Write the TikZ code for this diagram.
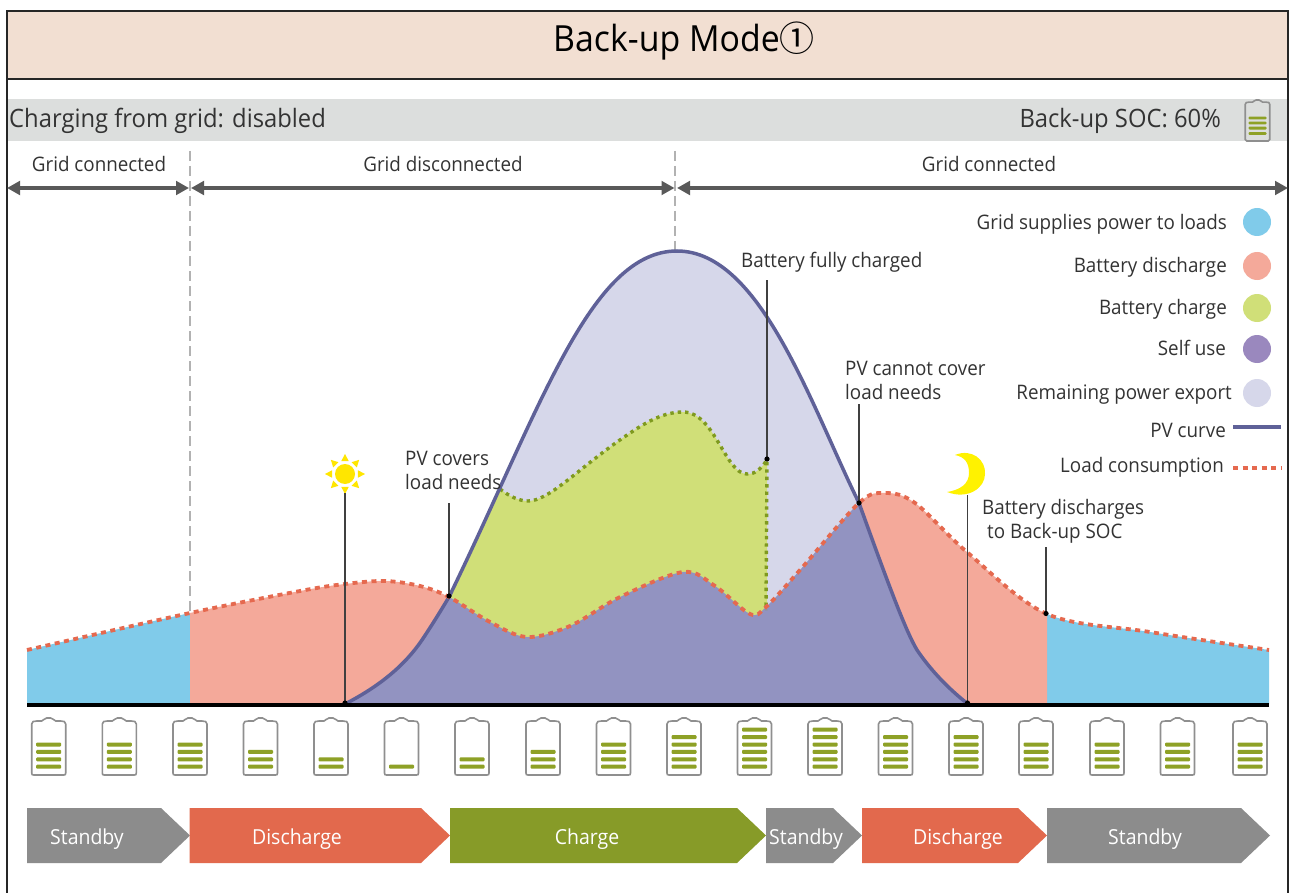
\documentclass[tikz,border=0pt]{standalone}
\usepackage{fontspec}
\setmainfont[FakeStretch=0.94]{Open Sans}
\newfontfamily\symfont{Noto Sans CJK SC}
\usetikzlibrary{arrows.meta}
\definecolor{cBlue}{HTML}{80CBEA}
\definecolor{cPink}{HTML}{F4A99A}
\definecolor{cGreen}{HTML}{D0DF78}
\definecolor{cPurple}{HTML}{9293C1}
\definecolor{cLegPurple}{HTML}{9A88BE}
\definecolor{cLav}{HTML}{D6D7EA}
\definecolor{cPV}{HTML}{5F6198}
\definecolor{cLoad}{HTML}{E5694F}
\definecolor{cGrnLine}{HTML}{7F9A1F}
\definecolor{cBar}{HTML}{8EA126}
\definecolor{cOut}{HTML}{8F8F8F}
\definecolor{cGrey}{HTML}{8C8C8C}
\definecolor{cOrange}{HTML}{E2694D}
\definecolor{cOlive}{HTML}{879B28}
\definecolor{cText}{HTML}{333333}
\definecolor{cArrow}{HTML}{595959}
\definecolor{cBand}{HTML}{DCDEDD}
\definecolor{cTitle}{HTML}{F2DFD2}
\definecolor{cSun}{HTML}{FFE600}
\definecolor{cMoon}{HTML}{FFF200}
\def\loadc{-- plot[smooth,tension=.55] coordinates {(27,650) (190,613) (300,591) (345,584) (385,581) (420,586) (449,597) (490,622) (527,637) (570,626) (620,597) (683,572) (715,586) (750,614) (766,607) (800,570) (859,503) (885,493) (915,503) (968,553) (1047,614) (1150,632) (1269,650)}}
\def\pvc{.. controls (380,686) and (405,665) .. (422,640) .. controls (432,625) and (440,612) .. (449,597) .. controls (540,410) and (590,251) .. (677,251) .. controls (760,251) and (810,403) .. (859,503) .. controls (885,575) and (905,630) .. (917,650) .. controls (932,672) and (950,690) .. (968,704)}
\def\grnc{-- (500,489) .. controls (510,497) and (520,501) .. (528,501) .. controls (548,501) and (575,472) .. (617,442) .. controls (640,426) and (660,412) .. (683,412) .. controls (715,412) and (725,474) .. (747,474) .. controls (755,474) and (760,470) .. (767,460)}
\newcommand\battshape{\draw[battline] (-17,6) .. controls (-17,3.5) and (-15,3) .. (-12,3) -- (-7,3) .. controls (-5,3) and (-5,0) .. (-2,0) -- (2,0) .. controls (5,0) and (5,3) .. (7,3) -- (12,3) .. controls (15,3) and (17,3.5) .. (17,6) -- (17,55) .. controls (17,56.5) and (16.5,57) .. (15,57) -- (-15,57) .. controls (-16.5,57) and (-17,56.5) .. (-17,55) -- cycle;}
\tikzset{
  battline/.style={draw=cOut,line width=1.6pt},
  bar/.style={fill=cBar,rounded corners=1pt},
  txt/.style={text=cText,inner sep=0pt,font=\fontsize{20}{24}\selectfont},
  big/.style={text=cText,inner sep=0pt,font=\fontsize{25.3}{30}\selectfont},
  span/.style={draw=cArrow,line width=4pt,{Triangle[length=13pt,width=13.5pt]}-{Triangle[length=13pt,width=13.5pt]}},
  vdash/.style={draw=black!30,line width=2pt,dash pattern=on 10pt off 5pt},
  leader/.style={draw=black!75,line width=1.5pt},
  dot/.style={fill=black},
  chev/.style={text=white,inner sep=0pt,font=\fontsize{20.7}{24}\selectfont},
  legdot/.style={circle,minimum size=28pt,inner sep=0pt},
  pvline/.style={draw=cPV,line width=3.5pt},
  loadline/.style={draw=cLoad,line width=3.8pt,dash pattern=on 5pt off 4.5pt},
  grnline/.style={draw=cGrnLine,line width=3.4pt,dash pattern=on 3.4pt off 4pt},
}
\begin{document}
\begin{tikzpicture}[x=1pt,y=-1pt]
\useasboundingbox (0,0) rectangle (1292,893);
\fill[white] (0,0) rectangle (1292,893);
% header
\fill[cBand] (7,99) rectangle (1288,141);
\draw[fill=cTitle,draw=black!85,line width=1.6pt] (7,11) rectangle (1288,79);
\draw[draw=black!85,line width=1.6pt] (7,11) -- (7,893) (1288,11) -- (1288,893);
\node[text=black,inner sep=0pt,font=\fontsize{36}{42}\selectfont] (title) at (684,41) {Back-up Mode{\symfont\fontsize{35}{42}\selectfont ①}};
\node[big,anchor=west] (chg) at (9,121) {Charging from grid: disabled};
\node[big,anchor=east] (soc) at (1221,121) {Back-up SOC: 60\%};
\begin{scope}[shift={(1257.5,100)},scale=.72]
 \battshape
 \foreach \yy in {25,32,39,46.5} \fill[bar] (-12.5,\yy-2) rectangle (12.5,\yy+2);
\end{scope}
% grid spans
\node[txt] (g1) at (99,164) {Grid connected};
\node[txt] (g2) at (443,164) {Grid disconnected};
\node[txt] (g3) at (989,164) {Grid connected};
\coordinate (a0) at (7,188); \coordinate (a1) at (189,188);
\coordinate (a2) at (191,188); \coordinate (a3) at (674.5,188);
\coordinate (a4) at (677,188); \coordinate (a5) at (1288,188);
% areas
\begin{scope}
 \clip (27,600) rectangle (190,704);
 \fill[cBlue] (27,704) \loadc -- (1269,704) -- cycle;
\end{scope}
\begin{scope}
 \clip (1047,600) rectangle (1269,704);
 \fill[cBlue] (27,704) \loadc -- (1269,704) -- cycle;
\end{scope}
\begin{scope}
 \clip (190,480) rectangle (1047,704);
 \fill[cPink] (27,704) \loadc -- (1269,704) -- cycle;
\end{scope}
\fill[cLav] (345,704) \pvc -- cycle;
\begin{scope}
 \clip (345,704) \pvc -- cycle;
 \fill[cGreen] (440,704) -- (440,470) -- (500,470) \grnc -- (767,704) -- cycle;
 \fill[cPurple] (27,704) \loadc -- (1269,704) -- cycle;
\end{scope}
\draw[vdash] (190,151) -- (190,613);
\draw[vdash] (674.5,151) -- (674.5,251);
\draw[span] (a0) -- (a1);
\draw[span] (a2) -- (a3);
\draw[span] (a4) -- (a5);
% curves
\draw[grnline] (500,489) \grnc -- (766,610);
\draw[pvline] (345,704) \pvc;
\draw[loadline] (27,650) \loadc;
\draw[black,line width=4.6pt] (27,705) -- (1269,705);
% sun
\coordinate (sunc) at (345,474);
\fill[cSun] (sunc) circle (10);
\foreach \a in {0,45,...,315} \fill[cSun] ([shift={(\a:20)}]sunc) -- ([shift={(\a+16:13.5)}]sunc) -- ([shift={(\a-16:13.5)}]sunc) -- cycle;
% moon
\fill[cMoon] (955,455) .. controls (972,448) and (986,460) .. (985,474) .. controls (985,488) and (968,500) .. (947,492) .. controls (960,490) and (969,484) .. (969,473) .. controls (969,463) and (965,457) .. (955,455) -- cycle;
% callouts
\node[txt,anchor=west] (full) at (741,262) {Battery fully charged};
\node[txt,anchor=north west,align=left] (cov) at (405,451) {PV covers\\load needs};
\node[txt,anchor=north west,align=left] (cant) at (845,361) {PV cannot cover\\load needs};
\node[txt,anchor=north west,align=left] (dis) at (982,499) {Battery discharges\\\hspace*{5pt}to Back-up SOC};
\coordinate (d1) at (345,703); \coordinate (s1) at (345,493);
\coordinate (d2) at (449,596); \coordinate (s2) at (449,503);
\coordinate (d3) at (767,459); \coordinate (s3) at (767,280);
\coordinate (d4) at (859,503); \coordinate (s4) at (859,404);
\coordinate (d5) at (967.5,703); \coordinate (s5) at (967.5,495);
\coordinate (d6) at (1046,613.5); \coordinate (s6) at (1046,547);
\foreach \i in {1,...,6} {
 \draw[leader] (s\i) -- (d\i);
 \fill[dot] (d\i) circle (2.6);
}
% legend
\node[legdot,fill=cBlue] (l1) at (1257,222) {};
\node[legdot,fill=cPink] (l2) at (1257,266) {};
\node[legdot,fill=cGreen] (l3) at (1257,308) {};
\node[legdot,fill=cLegPurple] (l4) at (1257,349) {};
\node[legdot,fill=cLav] (l5) at (1257,393) {};
\node[txt,anchor=east] (t1) at (1227,224) {Grid supplies power to loads};
\node[txt,anchor=east] (t2) at (1227,267) {Battery discharge};
\node[txt,anchor=east] (t3) at (1227,309) {Battery charge};
\node[txt,anchor=east] (t4) at (1226,348) {Self use};
\node[txt,anchor=east] (t5) at (1232,395) {Remaining power export};
\node[txt,anchor=east] (t6) at (1226,430) {PV curve};
\node[txt,anchor=east] (t7) at (1224,467) {Load consumption};
\coordinate (p0) at (1233,427); \coordinate (p1) at (1281,427);
\coordinate (q0) at (1233,468); \coordinate (q1) at (1281,468);
\draw[pvline] (p0) -- (p1);
\draw[loadline] (q0) -- (q1);
% batteries
\foreach \x/\n in {48.7/4,119.3/4,190/4,260.5/3,331/2,401.5/1,472/2,543/3,613.5/4,684/5,754.5/6,825/6,895.5/5,966/5,1036/4,1107/4,1177.5/4,1250/4} {
 \begin{scope}[shift={(\x,718)}]
  \battshape
  \foreach \k in {1,...,\n} {
   \pgfmathsetmacro\yy{48.7-7.4*(\k-1)}
   \fill[bar] (-12.5,\yy-2) rectangle (12.5,\yy+2);
  }
 \end{scope}
}
% mode chevrons
\fill[cGrey] (27,808) -- (161,808) -- (190,835.5) -- (161,863) -- (27,863) -- cycle;
\fill[cOrange] (189.5,808) -- (421,808) -- (450,835.5) -- (421,863) -- (189.5,863) -- cycle;
\fill[cOlive] (450,808) -- (737,808) -- (766,835.5) -- (737,863) -- (450,863) -- cycle;
\fill[cGrey] (766,808) -- (833,808) -- (862,835.5) -- (833,863) -- (766,863) -- cycle;
\fill[cOrange] (862,808) -- (1018,808) -- (1047,835.5) -- (1018,863) -- (862,863) -- cycle;
\fill[cGrey] (1047,808) -- (1241,808) -- (1270,835.5) -- (1241,863) -- (1047,863) -- cycle;
\node[chev] (m1) at (87,839) {Standby};
\node[chev] (m2) at (297,839) {Discharge};
\node[chev] (m3) at (587,839) {Charge};
\node[chev] (m4) at (806,839) {Standby};
\node[chev] (m5) at (958,839) {Discharge};
\node[chev] (m6) at (1145,839) {Standby};
\end{tikzpicture}
\end{document}
